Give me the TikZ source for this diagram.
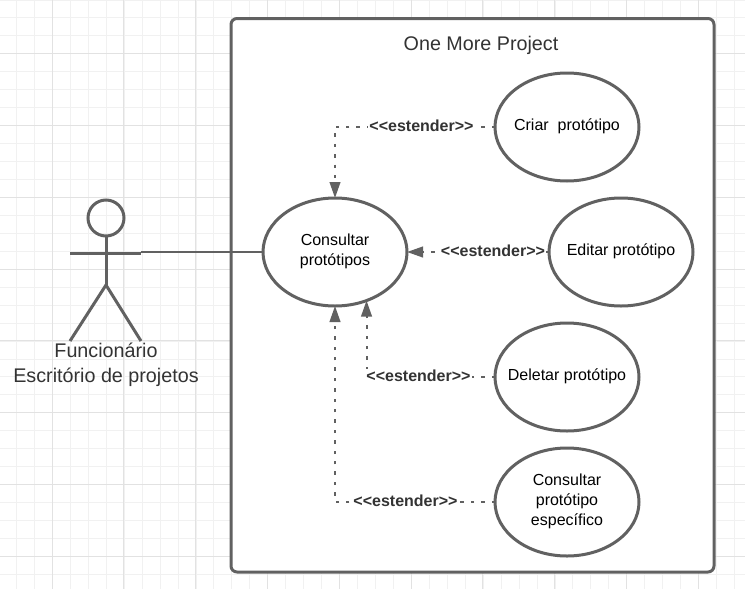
\documentclass[tikz,border=0pt]{standalone}
\usepackage{fontspec}
\setmainfont{Liberation Sans}
\usetikzlibrary{shapes.geometric,arrows.meta}
\definecolor{edge}{HTML}{616161}
\definecolor{ink}{HTML}{333333}
\definecolor{gridmajor}{HTML}{E2E2E2}
\definecolor{gridminor}{HTML}{F1F1F1}
\tikzset{
  x=0.75pt,y=-0.75pt,
  usecase/.style={ellipse,draw=edge,fill=white,line width=2.25pt,minimum width=108pt,minimum height=81pt,inner sep=-20pt,outer sep=0pt,align=center,text=black,text depth=4pt,font=\fontsize{12pt}{15pt}\selectfont},
  extend/.style={draw=edge,line width=1.5pt,dash pattern=on 2.6pt off 5.2pt,-{Triangle[length=12pt,width=8pt,fill=edge]}},
  extlabel/.style={fill=white,inner sep=0.8pt,text=ink,font=\fontsize{12pt}{13pt}\selectfont\bfseries},
  limb/.style={draw=edge,line width=2.25pt},
}
\begin{document}
\begin{tikzpicture}
\useasboundingbox (0,0) rectangle (745,589);
\fill[white] (0,0) rectangle (745,589);
\foreach \k in {0,...,41} {
  \draw[gridminor,line width=0.75pt] ({16.5+17.95*\k},0) -- ({16.5+17.95*\k},589);
}
\foreach \k in {0,...,32} {
  \draw[gridminor,line width=0.75pt] (0,{0+17.95*\k}) -- (745,{0+17.95*\k});
}
\foreach \k in {0,...,9} {
  \draw[gridmajor,line width=0.75pt] ({52+71.8*\k},0) -- ({52+71.8*\k},589);
}
\foreach \k in {0,...,7} {
  \draw[gridmajor,line width=0.75pt] (0,{53.7+71.8*\k}) -- (745,{53.7+71.8*\k});
}
\draw[edge,fill=white,line width=2.25pt,rounded corners=4.5pt] (231,18.5) rectangle (714,572);
\node[text=ink,font=\fontsize{14.8pt}{17pt}\selectfont] (title) at (481,45) {One More Project};

\node[usecase] (cons) at (335,252) {Consultar\\protótipos};
\node[usecase] (cri) at (567,127) {Criar\ \ protótipo};
\node[usecase] (edi) at (621,252) {Editar protótipo};
\node[usecase] (del) at (567,377) {Deletar protótipo};
\node[usecase] (esp) at (567,502) {Consultar\\protótipo\\específico};

\node[circle,draw=edge,line width=2.25pt,minimum size=27pt,inner sep=0pt,outer sep=0pt] (head) at (106,218) {};
\coordinate (hip) at (106,285);
\coordinate (handl) at (70,253.5);
\coordinate (handr) at (141,253.5);
\coordinate (footl) at (70,341);
\coordinate (footr) at (141,341);
\draw[limb] (head.south) -- (hip);
\draw[limb] (handl) -- (handr);
\draw[limb] (footl) -- (hip) -- (footr);
\node[text=ink,align=center,font=\fontsize{14.8pt}{18.5pt}\selectfont] (actor) at (106,365) {Funcionário\\Escritório de projetos};

\draw[edge,line width=1.5pt] (handr |- cons.west) -- (cons.west);

\draw[extend] (cri.west) -| (cons.north);
\draw[extend] (edi.west) -- (cons.east);
\draw[extend] (del.west) -| (cons.-57.5);
\draw[extend] (esp.west) -| (cons.south);

\node[extlabel] (l1) at (421.5,125.5) {<{}<estender>{}>};
\node[extlabel] (l2) at (493,250.5) {<{}<estender>{}>};
\node[extlabel] (l3) at (418.5,375.5) {<{}<estender>{}>};
\node[extlabel] (l4) at (405.5,500.5) {<{}<estender>{}>};
\end{tikzpicture}
\end{document}
